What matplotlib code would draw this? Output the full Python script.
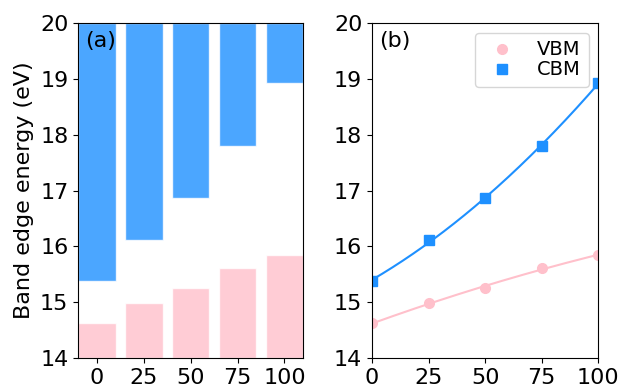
import numpy as np
import matplotlib
matplotlib.use('Agg')
import matplotlib.pyplot as plt

# 데이터
x = [0, 25, 50, 75, 100]
vbm = [14.62, 14.98, 15.26, 15.62, 15.84]
cbm = [15.38, 16.11, 16.86, 17.79, 18.93]
xticks = [0, 25, 50, 75, 100]
ytop = 20
ybottom = 14

plt.rcParams['font.size'] = 16

fig = plt.figure(figsize=(6.2, 3.88), dpi=100)
ax1 = fig.add_axes([0.126, 0.077, 0.363, 0.864])
ax2 = fig.add_axes([0.600, 0.077, 0.365, 0.864])

# (a) 막대 그래프
vbm_h = [v - ybottom for v in vbm]
cbm_h = [ytop - c for c in cbm]
ax1.bar(x, vbm_h, width=20, bottom=ybottom, color='pink', alpha=0.8, edgecolor='white')
ax1.bar(x, cbm_h, width=20, bottom=cbm, color='dodgerblue', alpha=0.8, edgecolor='white')
ax1.set_xlim(-10, 110)
ax1.set_ylim(ybottom, ytop)
ax1.set_xticks(xticks)
ax1.set_ylabel('Band edge energy (eV)')
ax1.text(0.03, 0.975, '(a)', transform=ax1.transAxes, va='top', ha='left')

# (b) 추세선 + 점
xs = np.linspace(0, 100, 200)
p_v = np.polyfit(x, vbm, 2)
p_c = np.polyfit(x, cbm, 2)
ax2.plot(xs, np.polyval(p_v, xs), color='pink', lw=1.5)
ax2.plot(xs, np.polyval(p_c, xs), color='dodgerblue', lw=1.5)
ax2.plot(x, vbm, 'o', color='pink', ms=7, label='VBM')
ax2.plot(x, cbm, 's', color='dodgerblue', ms=7, label='CBM')
ax2.set_xlim(0, 100)
ax2.set_ylim(ybottom, ytop)
ax2.set_xticks(xticks)
ax2.text(0.03, 0.975, '(b)', transform=ax2.transAxes, va='top', ha='left')
ax2.legend(loc='upper right', fontsize=14, labelspacing=0.05)

fig.savefig('out.png', dpi=100)
